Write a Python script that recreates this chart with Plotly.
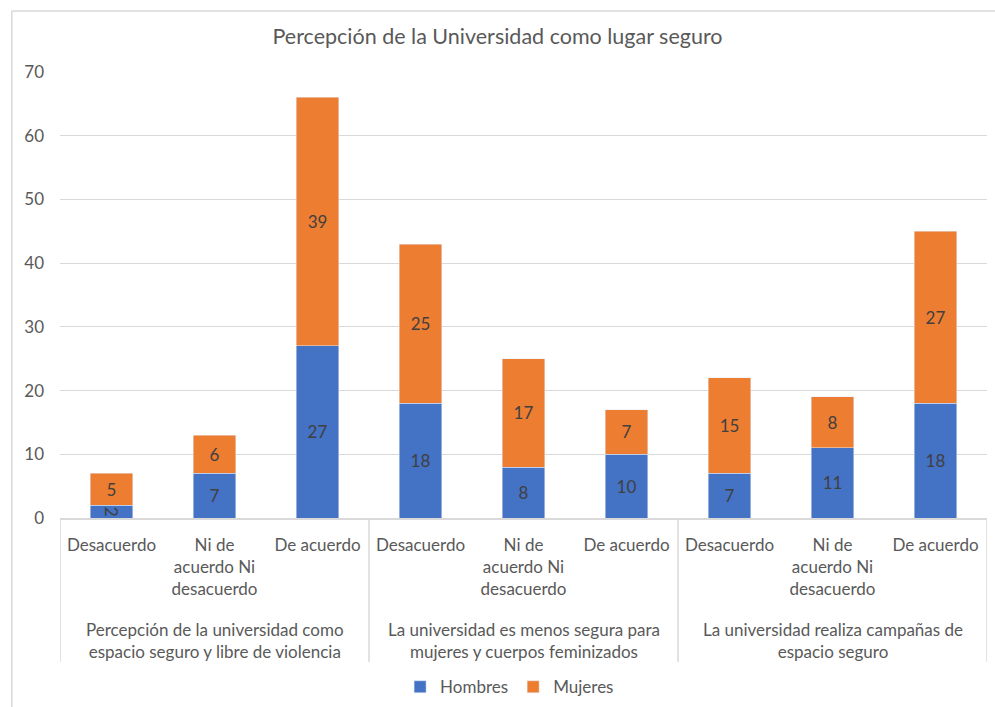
import plotly.graph_objects as go

##### datos del gráfico #####
grupos = ["Percepción de la universidad como<br>espacio seguro y libre de violencia",
          "La universidad es menos segura para<br>mujeres y cuerpos feminizados",
          "La universidad realiza campañas de<br>espacio seguro"]
respuestas = ["Desacuerdo", "Ni de<br>acuerdo Ni<br>desacuerdo", "De acuerdo"]

hombres = [2, 7, 27, 18, 8, 10, 7, 11, 18]
mujeres = [5, 6, 39, 25, 17, 7, 15, 8, 27]

y_ticks = [0, 10, 20, 30, 40, 50, 60, 70]

gris = "#595959"
linea = "#d9d9d9"
fuente = "Lato"

### posiciones de cada barra (grupo x respuesta)
pos = list(range(len(grupos) * len(respuestas)))
etiquetas = respuestas * len(grupos)

fig = go.Figure()
fig.add_trace(go.Bar(x=pos, y=hombres, name="Hombres", marker_color="#4472C4",
                     text=hombres, textposition="inside", insidetextanchor="middle",
                     textfont=dict(color="#404040", size=17)))
fig.add_trace(go.Bar(x=pos, y=mujeres, name="Mujeres", marker_color="#ED7D31",
                     text=mujeres, textposition="inside", insidetextanchor="middle",
                     textfont=dict(color="#404040", size=17)))

### etiquetas del segundo nivel y divisiones
n = len(respuestas)
for i, g in enumerate(grupos):
    fig.add_annotation(x=i * n + (n - 1) / 2, xref="x", y=-0.275, yref="paper",
                       text=g, showarrow=False, yanchor="middle",
                       font=dict(family=fuente, size=17, color=gris))
for k in range(len(grupos) + 1):
    fig.add_shape(type="line", xref="x", yref="paper", x0=k * n - 0.5, x1=k * n - 0.5,
                  y0=0, y1=-0.323, line=dict(color=linea, width=1.5))

### marco del gráfico (solo borde izquierdo y superior se ven)
fig.add_shape(type="line", xref="paper", yref="paper", x0=-0.052, x1=-0.052,
              y0=-0.5, y1=1.137, line=dict(color=linea, width=1.5), layer="below")
fig.add_shape(type="line", xref="paper", yref="paper", x0=-0.052, x1=1.05,
              y0=1.137, y1=1.137, line=dict(color=linea, width=1.5), layer="below")

fig.update_layout(
    barmode="stack",
    bargap=0.59,
    width=995, height=707,
    margin=dict(l=60, r=8, t=72, b=189),
    paper_bgcolor="white", plot_bgcolor="white",
    font=dict(family=fuente, size=17, color=gris),
    title=dict(text="Percepción de la Universidad como lugar seguro", x=0.5, xanchor="center",
               y=0.948, yanchor="middle", font=dict(size=21.5, color=gris)),
    legend=dict(orientation="h", x=0.485, xanchor="center", yref="container", y=0.028,
                yanchor="middle", traceorder="normal", font=dict(size=17, color=gris)),
    uniformtext=dict(minsize=17, mode="show"),
    showlegend=True,
)
fig.update_xaxes(tickvals=pos, ticktext=etiquetas, range=[-0.5, len(pos) - 0.5],
                 showline=True, linecolor=linea, linewidth=1.5, showgrid=False,
                 ticks="", ticklabelstandoff=11, tickangle=0, fixedrange=True,
                 automargin=False)
fig.update_yaxes(range=[0, 70], tickvals=y_ticks, showgrid=True, gridcolor=linea,
                 gridwidth=1, zeroline=False, showline=False, ticks="",
                 ticklabelstandoff=15, fixedrange=True, automargin=False)

### quitar el margen del body para que el gráfico quede en (0,0)
fig.write_html("out.html", config={"displayModeBar": False},
               post_script="document.body.style.margin='0';")
